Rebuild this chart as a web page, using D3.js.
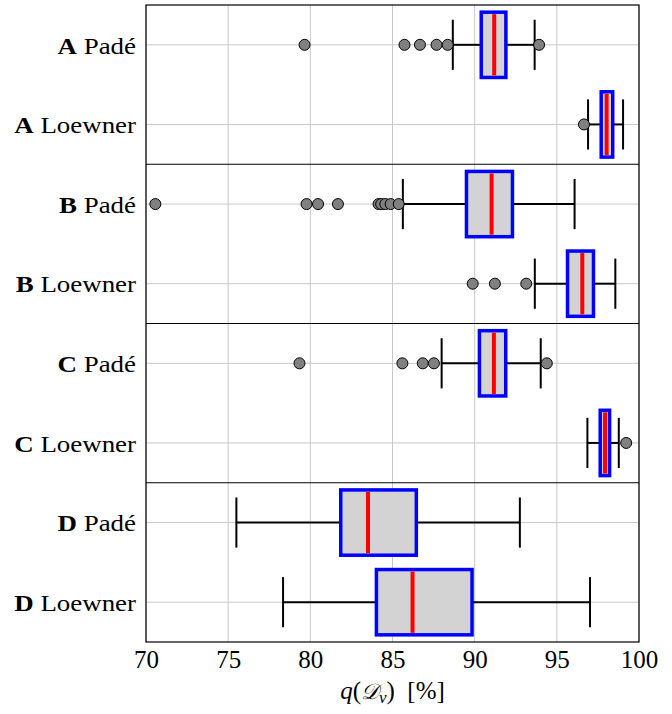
<!DOCTYPE html>
<html><head><meta charset="utf-8">
<script src="https://cdn.jsdelivr.net/npm/d3@7"></script>
<style>body{margin:0;background:#fff}svg{display:block}</style>
</head><body>
<script>
const groups = ["A","A","B","B","C","C","D","D"];
const methods = ["Padé","Loewner","Padé","Loewner","Padé","Loewner","Padé","Loewner"];
const whiskerLow  = [88.67, 96.90, 85.63, 93.66, 87.99, 96.86, 75.50, 78.34];
const q1          = [90.40, 97.70, 89.50, 95.65, 90.29, 97.64, 81.85, 84.02];
const median      = [91.19, 98.03, 91.03, 96.55, 91.17, 97.93, 83.51, 86.22];
const q3          = [91.90, 98.40, 92.30, 97.23, 91.89, 98.21, 86.45, 89.84];
const whiskerHigh = [93.65, 99.03, 96.08, 98.56, 94.02, 98.77, 92.75, 97.02];
const outliers = [
  [79.65, 85.73, 86.67, 87.68, 88.36, 93.92],
  [96.65],
  [70.57, 79.77, 80.47, 81.68, 84.15, 84.31, 84.56, 84.89, 85.38],
  [89.88, 91.23, 93.14],
  [79.34, 85.60, 86.84, 87.52, 94.39],
  [99.22],
  [],
  []
];
const xTicks = [70, 75, 80, 85, 90, 95, 100];

const W = 672, H = 714;
const L = 146, R = 639, T = 5, B = 642;
const svg = d3.select("body").append("svg").attr("width", W).attr("height", H);
const x = d3.scaleLinear().domain([70, 100]).range([L, R]);
const y = d3.scaleLinear().domain([0, groups.length]).range([T, B]);
const rowH = y(1) - y(0);
const boxH = rowH * 0.82, capH = rowH * 0.63;
const serif = "'Liberation Serif', 'Times New Roman', serif";

// grid
const g = svg.append("g");
g.selectAll("line.vg").data(xTicks).join("line")
  .attr("x1", d => x(d)).attr("x2", d => x(d)).attr("y1", T).attr("y2", B)
  .attr("stroke", "#c8c8c8").attr("stroke-width", 1);
g.selectAll("line.hg").data(groups).join("line")
  .attr("x1", L).attr("x2", R).attr("y1", (d, i) => y(i + 0.5)).attr("y2", (d, i) => y(i + 0.5))
  .attr("stroke", "#c8c8c8").attr("stroke-width", 1);

// boxes
const rows = svg.selectAll("g.row").data(groups.map((d, i) => i)).join("g")
  .attr("transform", i => `translate(0,${y(i + 0.5)})`);
rows.append("line").attr("x1", i => x(whiskerLow[i])).attr("x2", i => x(q1[i]))
  .attr("stroke", "#000").attr("stroke-width", 2);
rows.append("line").attr("x1", i => x(q3[i])).attr("x2", i => x(whiskerHigh[i]))
  .attr("stroke", "#000").attr("stroke-width", 2);
rows.append("line").attr("x1", i => x(whiskerLow[i])).attr("x2", i => x(whiskerLow[i]))
  .attr("y1", -capH / 2).attr("y2", capH / 2).attr("stroke", "#000").attr("stroke-width", 2);
rows.append("line").attr("x1", i => x(whiskerHigh[i])).attr("x2", i => x(whiskerHigh[i]))
  .attr("y1", -capH / 2).attr("y2", capH / 2).attr("stroke", "#000").attr("stroke-width", 2);
rows.append("rect").attr("x", i => x(q1[i])).attr("width", i => x(q3[i]) - x(q1[i]))
  .attr("y", -boxH / 2).attr("height", boxH)
  .attr("fill", "#d3d3d3").attr("stroke", "#0000ff").attr("stroke-width", 3.5);
rows.append("line").attr("x1", i => x(median[i])).attr("x2", i => x(median[i]))
  .attr("y1", -boxH / 2 + 2).attr("y2", boxH / 2 - 2).attr("stroke", "#ff0000").attr("stroke-width", 4);
rows.each(function(i) {
  d3.select(this).selectAll("circle").data(outliers[i]).join("circle")
    .attr("cx", d => x(d)).attr("cy", 0).attr("r", 5.5)
    .attr("fill", "#808080").attr("stroke", "#000").attr("stroke-width", 1);
});

// frame + separators
svg.append("rect").attr("x", L).attr("y", T).attr("width", R - L).attr("height", B - T)
  .attr("fill", "none").attr("stroke", "#000").attr("stroke-width", 1.2);
svg.selectAll("line.sep").data([2, 4, 6]).join("line")
  .attr("x1", L).attr("x2", R).attr("y1", d => y(d)).attr("y2", d => y(d))
  .attr("stroke", "#000").attr("stroke-width", 1.2);

// y labels
const lab = svg.selectAll("text.ylab").data(groups).join("text")
  .attr("transform", (d, i) => `translate(${L - 10},${y(i + 0.5)}) scale(1.17,1)`)
  .attr("dy", "0.38em")
  .attr("text-anchor", "end").attr("font-family", serif).attr("font-size", 23).attr("fill", "#000");
lab.append("tspan").attr("font-weight", "bold").text(d => d);
lab.append("tspan").text((d, i) => "\u00a0" + methods[i]);

// x axis
const xAxis = d3.axisBottom(x).tickValues(xTicks).tickSize(0).tickPadding(8).tickFormat(d3.format("d"));
const ax = svg.append("g").attr("transform", `translate(0,${B})`).call(xAxis);
ax.select(".domain").remove();
ax.selectAll("text").attr("font-family", serif).attr("font-size", 25).attr("fill", "#000");

const title = svg.append("text").attr("x", (L + R) / 2).attr("y", 699)
  .attr("text-anchor", "middle").attr("font-family", serif).attr("font-size", 25).attr("fill", "#000");
title.append("tspan").attr("font-style", "italic").text("q");
title.append("tspan").text("(");
title.append("tspan").attr("font-family", "'DejaVu Serif', serif").attr("font-style", "italic").attr("font-size", 22).text("\u{1D49F}");
title.append("tspan").attr("font-style", "italic").attr("font-size", 17).attr("dy", 4).text("v");
title.append("tspan").attr("dy", -4).text(")\u2002[%]");
</script>
</body></html>
